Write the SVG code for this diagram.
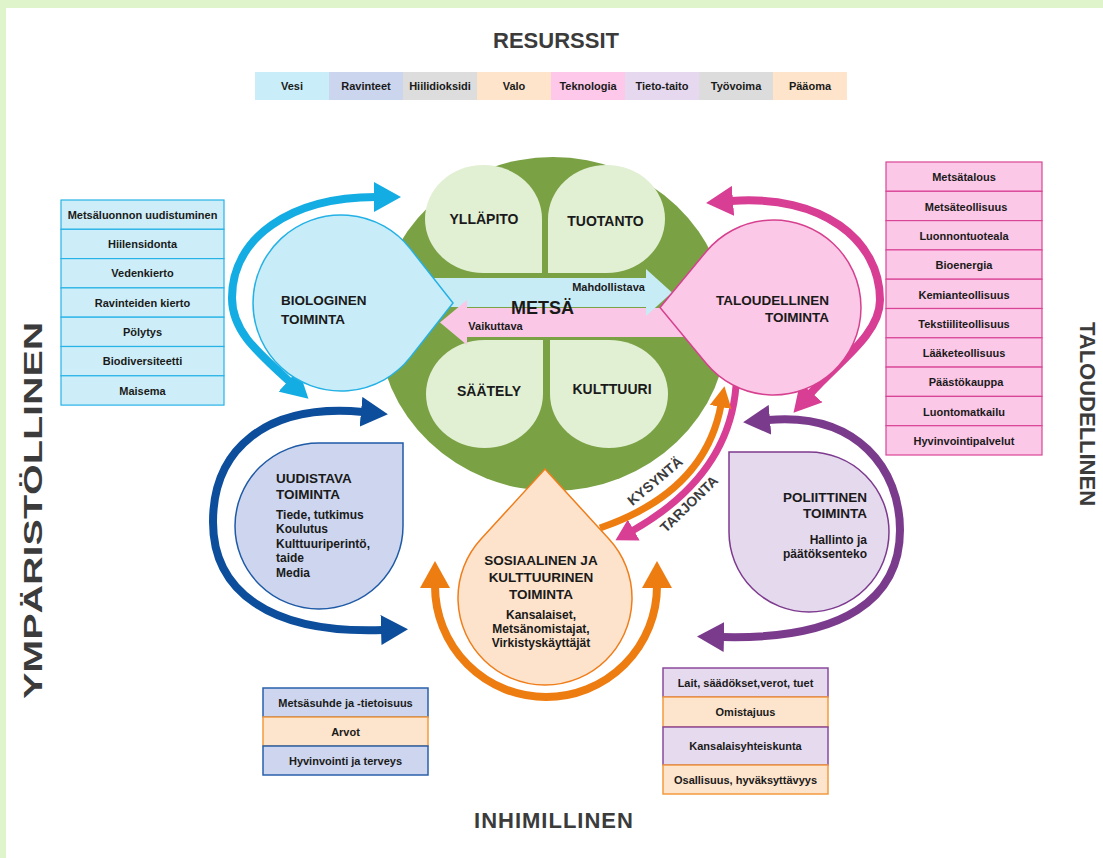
<svg xmlns="http://www.w3.org/2000/svg" width="1103" height="858" viewBox="0 0 1103 858">
<defs>
<style>
text{font-family:"Liberation Sans",Arial,sans-serif;font-weight:bold;fill:#1a1a1a}
.h{font-size:22px;fill:#3b3b3b}
.m{text-anchor:middle}
.e{text-anchor:end}
.c{font-size:11px;text-anchor:middle}
.t{font-size:13.5px}
.b{font-size:12px}
.p{font-size:14px;text-anchor:middle}
.kt{font-size:14px;fill:#3c3c3c;text-anchor:middle}
.lb{fill:#cdeef8;stroke:#27b3e6;stroke-width:1.2}
.lp{fill:#fcc8e8;stroke:#d94596;stroke-width:1.2}
.ld{fill:#cdd6ee;stroke:#2a60aa;stroke-width:1.5}
.lo{fill:#fde4cc;stroke:#f39a3f;stroke-width:1.5}
.lv{fill:#e6daee;stroke:#8a4a9c;stroke-width:1.5}
.petal{fill:#e1efd3}
.arc{fill:none;stroke-width:8}
.kb{fill:none;stroke-width:7}
</style>
<marker id="hCy" viewBox="0 -15 28 30" refX="2" refY="0" markerWidth="28" markerHeight="30" markerUnits="userSpaceOnUse" orient="auto-start-reverse"><path d="M0,-15L27,0L0,15Z" fill="#13ade3"/></marker>
<marker id="hBl" viewBox="0 -15 28 30" refX="2" refY="0" markerWidth="28" markerHeight="30" markerUnits="userSpaceOnUse" orient="auto-start-reverse"><path d="M0,-15L27,0L0,15Z" fill="#0d4e9c"/></marker>
<marker id="hOr" viewBox="0 -15 28 30" refX="2" refY="0" markerWidth="28" markerHeight="30" markerUnits="userSpaceOnUse" orient="auto-start-reverse"><path d="M0,-15L27,0L0,15Z" fill="#ee7d11"/></marker>
<marker id="hMg" viewBox="0 -15 28 30" refX="2" refY="0" markerWidth="28" markerHeight="30" markerUnits="userSpaceOnUse" orient="auto-start-reverse"><path d="M0,-15L27,0L0,15Z" fill="#d73e94"/></marker>
<marker id="hPu" viewBox="0 -15 28 30" refX="2" refY="0" markerWidth="28" markerHeight="30" markerUnits="userSpaceOnUse" orient="auto-start-reverse"><path d="M0,-15L27,0L0,15Z" fill="#7b3b8d"/></marker>
<marker id="sOr" viewBox="0 -12 22 24" refX="2" refY="0" markerWidth="22" markerHeight="24" markerUnits="userSpaceOnUse" orient="auto"><path d="M0,-11L21,0L0,11Z" fill="#ee7d11"/></marker>
<marker id="sMg" viewBox="0 -12 22 24" refX="2" refY="0" markerWidth="22" markerHeight="24" markerUnits="userSpaceOnUse" orient="auto"><path d="M0,-12L21,0L0,12Z" fill="#d73e94"/></marker>
</defs>

<rect width="1103" height="858" fill="#e0f4cb"/>
<rect x="6" y="8" width="1097" height="850" fill="#ffffff"/>

<g id="labels">
<text class="h m" x="556" y="48">RESURSSIT</text>
<text class="h m" x="554" y="828" letter-spacing="1">INHIMILLINEN</text>
<text class="h" transform="translate(42,699) rotate(-90) scale(1.58,1)" style="font-size:25px">YMPÄRISTÖLLINEN</text>
<text class="h m" transform="translate(1080,414) rotate(90)">TALOUDELLINEN</text>
</g>

<g id="resurssit">
<rect x="255" y="72" width="74" height="28" fill="#c9eef9"/>
<rect x="329" y="72" width="74" height="28" fill="#cbd5ee"/>
<rect x="403" y="72" width="74" height="28" fill="#dddddd"/>
<rect x="477" y="72" width="74" height="28" fill="#fde4cb"/>
<rect x="551" y="72" width="74" height="28" fill="#fdc8ea"/>
<rect x="625" y="72" width="74" height="28" fill="#e6d9ef"/>
<rect x="699" y="72" width="74" height="28" fill="#dcdcdc"/>
<rect x="773" y="72" width="74" height="28" fill="#fde4cb"/>
<text class="c" x="292" y="90">Vesi</text>
<text class="c" x="366" y="90">Ravinteet</text>
<text class="c" x="440" y="90">Hiilidioksidi</text>
<text class="c" x="514" y="90">Valo</text>
<text class="c" x="588" y="90">Teknologia</text>
<text class="c" x="662" y="90">Tieto-taito</text>
<text class="c" x="736" y="90">Työvoima</text>
<text class="c" x="810" y="90">Pääoma</text>
</g>

<g id="ymparisto-lista">
<rect class="lb" x="61" y="200" width="163" height="29.3"/>
<rect class="lb" x="61" y="229.3" width="163" height="29.3"/>
<rect class="lb" x="61" y="258.6" width="163" height="29.3"/>
<rect class="lb" x="61" y="287.9" width="163" height="29.3"/>
<rect class="lb" x="61" y="317.2" width="163" height="29.3"/>
<rect class="lb" x="61" y="346.5" width="163" height="29.3"/>
<rect class="lb" x="61" y="375.8" width="163" height="29.3"/>
<text class="c" x="142.5" y="219">Metsäluonnon uudistuminen</text>
<text class="c" x="142.5" y="248">Hiilensidonta</text>
<text class="c" x="142.5" y="277">Vedenkierto</text>
<text class="c" x="142.5" y="306.5">Ravinteiden kierto</text>
<text class="c" x="142.5" y="336">Pölytys</text>
<text class="c" x="142.5" y="365">Biodiversiteetti</text>
<text class="c" x="142.5" y="394.5">Maisema</text>
</g>

<g id="talous-lista">
<rect class="lp" x="886" y="162" width="156" height="29.3"/>
<rect class="lp" x="886" y="191.3" width="156" height="29.3"/>
<rect class="lp" x="886" y="220.6" width="156" height="29.3"/>
<rect class="lp" x="886" y="249.9" width="156" height="29.3"/>
<rect class="lp" x="886" y="279.2" width="156" height="29.3"/>
<rect class="lp" x="886" y="308.5" width="156" height="29.3"/>
<rect class="lp" x="886" y="337.8" width="156" height="29.3"/>
<rect class="lp" x="886" y="367.1" width="156" height="29.3"/>
<rect class="lp" x="886" y="396.4" width="156" height="29.3"/>
<rect class="lp" x="886" y="425.7" width="156" height="29.3"/>
<text class="c" x="964" y="181">Metsätalous</text>
<text class="c" x="966" y="210.5">Metsäteollisuus</text>
<text class="c" x="964" y="240">Luonnontuoteala</text>
<text class="c" x="964" y="269">Bioenergia</text>
<text class="c" x="964" y="298.5">Kemianteollisuus</text>
<text class="c" x="964" y="328">Tekstiiliteollisuus</text>
<text class="c" x="964" y="357">Lääketeollisuus</text>
<text class="c" x="966" y="386">Päästökauppa</text>
<text class="c" x="964" y="415.5">Luontomatkailu</text>
<text class="c" x="964" y="444.5">Hyvinvointipalvelut</text>
</g>

<g id="inhimillinen-lista">
<rect class="ld" x="263" y="688" width="165" height="29"/>
<rect class="lo" x="263" y="717" width="165" height="29"/>
<rect class="ld" x="263" y="746" width="165" height="29"/>
<text class="c" x="345.5" y="706.5">Metsäsuhde ja -tietoisuus</text>
<text class="c" x="345.5" y="735.5">Arvot</text>
<text class="c" x="345.5" y="764.5">Hyvinvointi ja terveys</text>
</g>

<g id="yhteiskunta-lista">
<rect class="lv" x="663" y="668" width="165" height="29"/>
<rect class="lo" x="663" y="697" width="165" height="30"/>
<rect class="lv" x="663" y="727" width="165" height="38"/>
<rect class="lo" x="663" y="765" width="165" height="29"/>
<text class="c" x="745.5" y="686.5">Lait, säädökset,verot, tuet</text>
<text class="c" x="745.5" y="716">Omistajuus</text>
<text class="c" x="745.5" y="750">Kansalaisyhteiskunta</text>
<text class="c" x="745.5" y="783.5">Osallisuus, hyväksyttävyys</text>
</g>

<g id="metsa">
<ellipse cx="553" cy="324" rx="175" ry="167" fill="#7aa245"/>
<path class="petal" d="M542,273L542,219A58.5,54 0 0 0 483.5,165A58.5,54 0 0 0 425,219A58.5,54 0 0 0 483.5,273Z"/>
<path class="petal" d="M548,273L548,219A58.5,54 0 0 1 606.5,165A58.5,54 0 0 1 665,219A58.5,54 0 0 1 606.5,273Z"/>
<path class="petal" d="M543,340L484.5,340A58.5,54 0 0 0 426,394A58.5,54 0 0 0 484.5,448A58.5,54 0 0 0 543,394Z"/>
<path class="petal" d="M550,340L609,340A59,54 0 0 1 668,394A59,54 0 0 1 609,448A59,54 0 0 1 550,394Z"/>
<text class="p" x="484" y="224">YLLÄPITO</text>
<text class="p" x="605.5" y="225.5">TUOTANTO</text>
<text class="p" x="489" y="396">SÄÄTELY</text>
<text class="p" x="612" y="394">KULTTUURI</text>
</g>

<g id="connectors">
<rect x="420" y="278" width="226" height="29" fill="#c8ecf6"/>
<rect x="467" y="308" width="235" height="29" fill="#fac8e6"/>
<path d="M646,269L672,292.5L646,316Z" fill="#c8ecf6"/>
<path d="M467,300L440,322.5L467,345Z" fill="#fac8e6"/>
<text class="c" x="608.5" y="291">Mahdollistava</text>
<text class="c" x="495.5" y="330">Vaikuttava</text>

<path class="arc" stroke="#13ade3" d="M290,382C255,350 232,330 232,298C232,238 290,197 376,197" marker-start="url(#hCy)" marker-end="url(#hCy)"/>
<path class="arc" stroke="#0d4e9c" d="M363,412C265,403 213,450 213,522C213,590 268,634 383,630" marker-start="url(#hBl)" marker-end="url(#hBl)"/>
<path class="arc" stroke="#ee7d11" d="M435,586A111,111 0 0 0 657,586" marker-start="url(#hOr)" marker-end="url(#hOr)"/>
<path class="arc" stroke="#d73e94" d="M731,201C822,194 880,240 880,300C880,335 838,362 810,394" marker-start="url(#hMg)" marker-end="url(#hMg)"/>
<path class="arc" stroke="#7b3b8d" d="M768,420C858,412 900,470 900,530C900,598 845,640 722,637" marker-start="url(#hPu)" marker-end="url(#hPu)"/>

<path class="kb" stroke="#d73e94" d="M736,386Q729,476 632,531" marker-end="url(#sMg)"/>
<path class="kb" stroke="#ee7d11" d="M600,528Q705,492 721,405" marker-end="url(#sOr)"/>
<text class="kt" transform="translate(655,481) rotate(-40)" y="5">KYSYNTÄ</text>
<text class="kt" transform="translate(689,504) rotate(-44)" y="5">TARJONTA</text>
</g>

<g id="biologinen">
<path d="M453,303L410.2,248.6A88,88 0 1 0 410.2,357.4Z" fill="#c9edf8" stroke="#24b1e5" stroke-width="1.5"/>
<text class="t" x="281" y="305">BIOLOGINEN</text>
<text class="t" x="281" y="324">TOIMINTA</text>
</g>

<g id="taloudellinen">
<path d="M660,307.5L706.1,251.7A87.5,87.5 0 1 1 706.1,363.3Z" fill="#fcc8e8" stroke="#d6418f" stroke-width="1.5"/>
<text class="t e" x="829" y="305">TALOUDELLINEN</text>
<text class="t e" x="829" y="322">TOIMINTA</text>
</g>

<g id="uudistava">
<path d="M403,443L403,526A84,83 0 0 1 319,609A84,83 0 0 1 235,526A84,83 0 0 1 319,443Z" fill="#cdd6ee" stroke="#1f5aa6" stroke-width="1.5"/>
<text class="t" x="276" y="483">UUDISTAVA</text>
<text class="t" x="276" y="499">TOIMINTA</text>
<text class="b" x="276" y="519">Tiede, tutkimus</text>
<text class="b" x="276" y="533">Koulutus</text>
<text class="b" x="276" y="548">Kulttuuriperintö,</text>
<text class="b" x="276" y="562">taide</text>
<text class="b" x="276" y="577">Media</text>
</g>

<g id="poliittinen">
<path d="M729,452L809,452A80,80 0 0 1 889,532A80,80 0 0 1 809,612A80,80 0 0 1 729,532Z" fill="#e5d9ee" stroke="#7d3a8e" stroke-width="1.5"/>
<text class="t e" x="867" y="502">POLIITTINEN</text>
<text class="t e" x="867" y="518">TOIMINTA</text>
<text class="b e" x="867" y="544">Hallinto ja</text>
<text class="b e" x="867" y="558">päätöksenteko</text>
</g>

<g id="sosiaalinen">
<path d="M545,469L609.2,539.3A87,87 0 1 1 480.8,539.3Z" fill="#fde3cb" stroke="#ef7d1a" stroke-width="1.5"/>
<text class="t m" x="541" y="565">SOSIAALINEN JA</text>
<text class="t m" x="541" y="582">KULTTUURINEN</text>
<text class="t m" x="541" y="599">TOIMINTA</text>
<text class="b m" x="541" y="619">Kansalaiset,</text>
<text class="b m" x="541" y="633">Metsänomistajat,</text>
<text class="b m" x="541" y="647">Virkistyskäyttäjät</text>
</g>

<g id="metsa-otsikko">
<text class="m" x="542.5" y="314" style="font-size:18px">METSÄ</text>
</g>
</svg>
